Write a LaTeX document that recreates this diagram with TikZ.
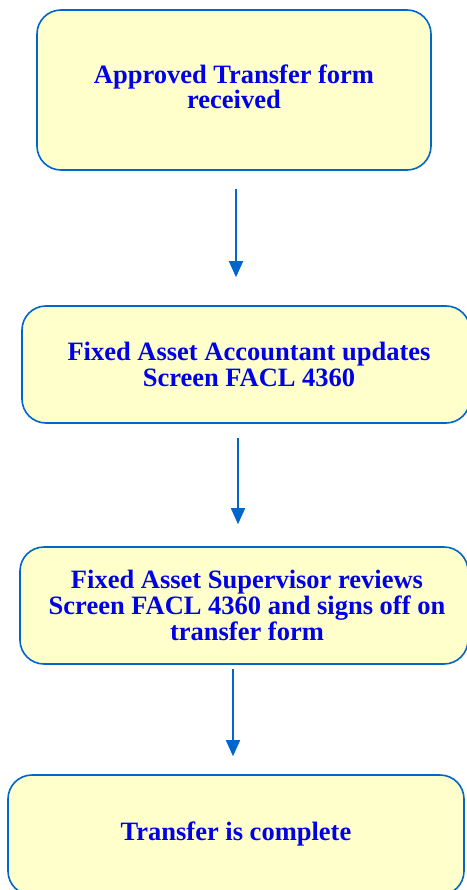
\documentclass[tikz,border=0pt]{standalone}
\usepackage{fontspec}
\setmainfont{Liberation Serif}
\usepackage{xcolor}
\usetikzlibrary{arrows.meta,positioning}
\definecolor{edgeblue}{RGB}{0,102,204}
\definecolor{boxfill}{RGB}{255,255,204}
\definecolor{textblue}{RGB}{0,0,230}

\begin{document}
\begin{tikzpicture}[x=1pt,y=-1pt,
    stepbox/.style={draw=edgeblue, line width=1.6pt, fill=boxfill, rounded corners=24pt},
    steptext/.style={text=textblue, align=center, inner sep=0pt, font=\fontsize{26.5}{26}\selectfont\bfseries},
    flow/.style={draw=edgeblue, line width=1.6pt, -{Triangle[length=16pt,width=14pt]}}]
    \useasboundingbox (0,0) rectangle (466,890);

    % Boxes
    \node[stepbox, minimum width=394, minimum height=160] (recv) at (234,90) {};
    \node[steptext, font=\fontsize{26.5}{24}\selectfont\bfseries] (recvtxt) at (234,87) {Approved Transfer form\\received};
    \node[stepbox, minimum width=448, minimum height=117] (upd) at (246,364.5) {};
    \node[steptext] (updtxt) at (249,364) {Fixed Asset Accountant updates\\Screen FACL 4360};
    \node[stepbox, minimum width=448, minimum height=117] (rev) at (244,605.5) {};
    \node[steptext] (revtxt) at (247,605) {Fixed Asset Supervisor reviews\\Screen FACL 4360 and signs off on\\transfer form};
    \node[stepbox, minimum width=456, minimum height=120] (done) at (236,835) {};
    \node[steptext] (donetxt) at (236,834) {Transfer is complete};

    % Arrows
    \draw[flow, shorten <=18pt, shorten >=28pt] ([xshift=2]recv.south) -- ([xshift=-10]upd.north);
    \draw[flow, shorten <=14pt, shorten >=22pt] ([xshift=-8]upd.south) -- ([xshift=-6]rev.north);
    \draw[flow, shorten <=4pt, shorten >=18pt] ([xshift=-11]rev.south) -- ([xshift=-3]done.north);
\end{tikzpicture}
\end{document}
